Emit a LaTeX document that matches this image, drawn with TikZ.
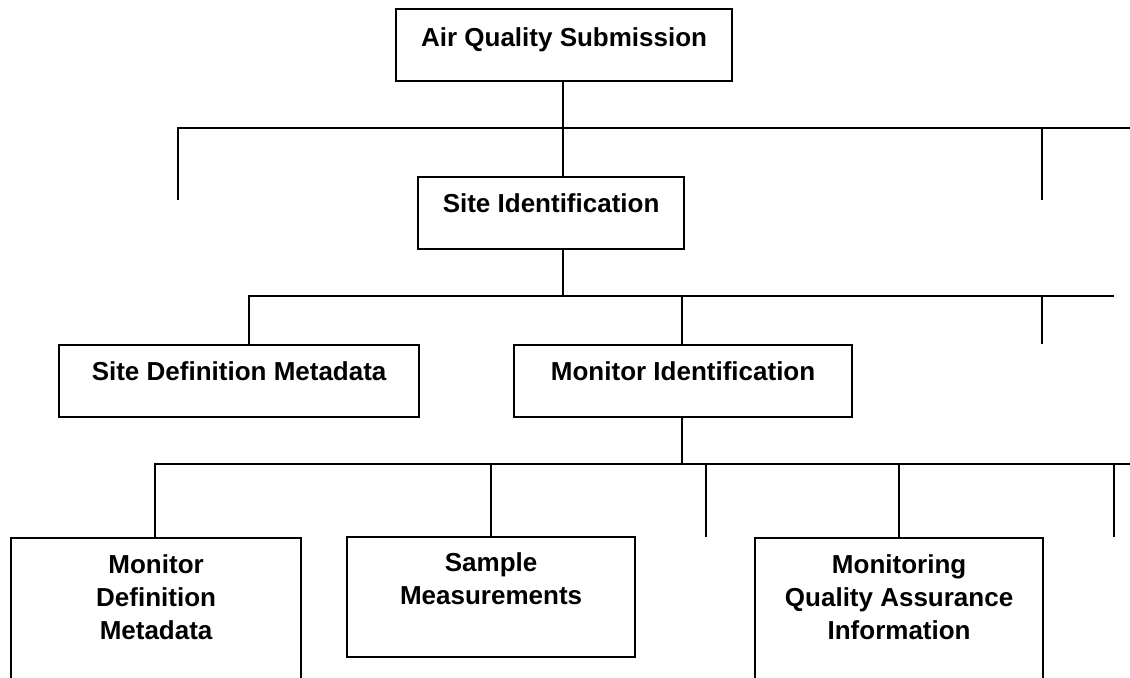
\documentclass[tikz,border=0pt]{standalone}
\usepackage{fontspec}
\setmainfont{Liberation Sans}
\usetikzlibrary{calc}
\begin{document}
\begin{tikzpicture}[x=0.5pt,y=-0.5pt,
  box/.style={draw=black, fill=white, line width=1.1pt, inner sep=0pt, anchor=north west},
  sz/.style 2 args={minimum width=#1*0.5pt, minimum height=#2*0.5pt},
  lbl/.style={font=\fontsize{13pt}{16.5pt}\selectfont\bfseries, align=center, inner sep=0pt, anchor=north},
  conn/.style={draw=black, line width=1.1pt}]
\useasboundingbox (0,0) rectangle (1130,677);
\clip (0,0) rectangle (1130,677);
\fill[white] (0,0) rectangle (1130,677);

% boxes
\node[box, sz={336}{72}] (aqs) at (395,8) {};
\node[box, sz={266}{72}] (si) at (417,176) {};
\node[box, sz={360}{72}] (sdm) at (58,344) {};
\node[box, sz={338}{72}] (mi) at (513,344) {};
\node[box, sz={290}{170}] (mdm) at (10,537) {};
\node[box, sz={288}{120}] (sm) at (346,536) {};
\node[box, sz={288}{170}] (mqai) at (754,537) {};

% texts
\node[lbl] (aqsT) at ($(aqs.north)+(0,19)$) {Air Quality Submission};
\node[lbl] (siT) at ($(si.north)+(0,17)$) {Site Identification};
\node[lbl] (sdmT) at ($(sdm.north)+(0,17)$) {Site Definition Metadata};
\node[lbl] (miT) at ($(mi.north)+(0,17)$) {Monitor Identification};
\node[lbl] (mdmT) at ($(mdm.north)+(0,17)$) {Monitor\\Definition\\Metadata};
\node[lbl] (smT) at ($(sm.north)+(0,16)$) {Sample\\Measurements};
\node[lbl] (mqaiT) at ($(mqai.north)+(0,17)$) {Monitoring\\Quality Assurance\\Information};

% junction coordinates
\coordinate (j1) at (563,128);
\coordinate (h1L) at (178,128);
\coordinate (h1R) at (1130,128);
\coordinate (t1a) at (178,200);
\coordinate (t1bT) at (1042,128);
\coordinate (t1b) at (1042,200);

\coordinate (j2) at (563,296);
\coordinate (h2L) at (249,296);
\coordinate (h2R) at (1114,296);
\coordinate (j2m) at (682,296);
\coordinate (t2T) at (1042,296);
\coordinate (t2) at (1042,344);

\coordinate (j3) at (682,464);
\coordinate (h3L) at (155,464);
\coordinate (h3R) at (1130,464);
\coordinate (t3aT) at (706,464);
\coordinate (t3a) at (706,537);
\coordinate (t3bT) at (1114,464);
\coordinate (t3b) at (1114,537);

% level 1
\draw[conn] (j1 |- aqs.south) -- (j1);
\draw[conn] (t1a) -- (h1L) -- (h1R);
\draw[conn] (t1bT) -- (t1b);
\draw[conn] (j1) -- (j1 |- si.north);

% level 2
\draw[conn] (j1 |- si.south) -- (j2);
\draw[conn] (h2L |- sdm.north) -- (h2L) -- (h2R);
\draw[conn] (j2m) -- (j2m |- mi.north);
\draw[conn] (t2T) -- (t2);

% level 3
\draw[conn] (j3 |- mi.south) -- (j3);
\draw[conn] (h3L |- mdm.north) -- (h3L) -- (h3R);
\draw[conn] (h3L -| sm.north) -- (sm.north);
\draw[conn] (h3L -| mqai.north) -- (mqai.north);
\draw[conn] (t3aT) -- (t3a);
\draw[conn] (t3bT) -- (t3b);
\end{tikzpicture}
\end{document}
